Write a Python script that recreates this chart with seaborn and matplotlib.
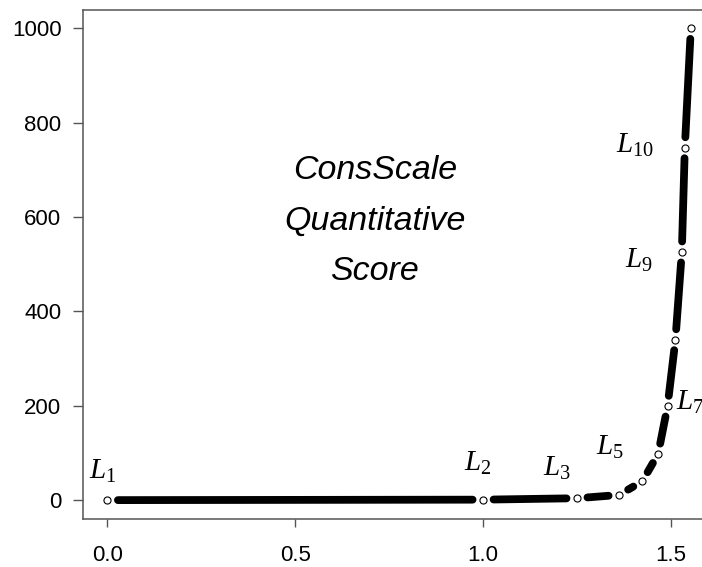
import numpy as np
import pandas as pd
import matplotlib
matplotlib.use("Agg")
import matplotlib.pyplot as plt
import seaborn as sns

# ---- data ----
x_vals = [0.0, 1.0, 1.25, 1.362, 1.424, 1.466, 1.491, 1.512, 1.529, 1.537, 1.553]
y_vals = [0, 1, 4, 11, 40, 98, 199, 340, 526, 747, 1000]
level_names = ["1", "2", "3", "5", "7", "9", "10"]
label_x = [-0.049, 0.950, 1.160, 1.301, 1.513, 1.379, 1.354]
label_y = [45, 62, 51, 96, 191, 492, 736]
x_ticks = [0.0, 0.5, 1.0, 1.5]
x_tick_labels = ["0.0", "0.5", "1.0", "1.5"]
y_ticks = [0, 200, 400, 600, 800, 1000]
title_lines = ["ConsScale", "Quantitative", "Score"]
title_y = [681, 573, 467]

sns.set_theme(style="white")
plt.rcParams["font.family"] = ["Liberation Sans", "DejaVu Sans"]
plt.rcParams["mathtext.fontset"] = "custom"
plt.rcParams["mathtext.it"] = "Liberation Serif:italic"
plt.rcParams["mathtext.rm"] = "Liberation Serif"

fig = plt.figure(figsize=(7.02, 5.67), dpi=100)
ax = fig.add_axes([83 / 702, 1 - 519 / 567, 630 / 702, 509.5 / 567])
ax.set_xlim(-0.065, 1.612)
ax.set_ylim(-40, 1040)

# shortened segments (gap around each point, as in R type="b")
pts = ax.transData.transform(np.column_stack([x_vals, y_vals]))
inv = ax.transData.inverted()
gap = 10.5
rows = []
for i in range(len(pts) - 1):
    p0, p1 = pts[i], pts[i + 1]
    d = p1 - p0
    L = np.hypot(*d)
    if L <= 2 * gap + 1:
        continue
    u = d / L
    a = inv.transform(p0 + u * gap)
    b = inv.transform(p1 - u * gap)
    rows.append({"seg": i, "x": a[0], "y": a[1], "o": 0})
    rows.append({"seg": i, "x": b[0], "y": b[1], "o": 1})
seg_df = pd.DataFrame(rows)

sns.lineplot(data=seg_df, x="x", y="y", units="seg", estimator=None, sort=False,
             color="black", linewidth=5.6, solid_capstyle="round", ax=ax, zorder=2)

pt_df = pd.DataFrame({"x": x_vals, "y": y_vals})
sns.scatterplot(data=pt_df, x="x", y="y", marker="o", s=26, facecolor="white",
                edgecolor="black", linewidth=0.8, ax=ax, zorder=3)

for name, lx, ly in zip(level_names, label_x, label_y):
    ax.text(lx, ly, r"$\mathit{L_{%s}}$" % name, fontsize=21, ha="left",
            va="baseline", color="black")

for t, ty in zip(title_lines, title_y):
    ax.text(0.712, ty, t, fontsize=24.5, style="italic", ha="center",
            va="baseline", color="black", family=["Liberation Sans", "DejaVu Sans"])

ax.set_xticks(x_ticks)
ax.set_xticklabels(x_tick_labels)
ax.set_yticks(y_ticks)
ax.set_xlabel("")
ax.set_ylabel("")
for sp in ax.spines.values():
    sp.set_color("#555555")
    sp.set_linewidth(1.1)
ax.tick_params(axis="y", direction="out", length=7.5, width=1.0, color="#555555",
               labelsize=16, pad=8, left=True)
ax.tick_params(axis="x", direction="out", length=5.5, width=1.0, color="#555555",
               labelsize=16, pad=13, bottom=True)
for lab in ax.get_xticklabels() + ax.get_yticklabels():
    lab.set_color("black")

fig.savefig("out.png", dpi=100)
